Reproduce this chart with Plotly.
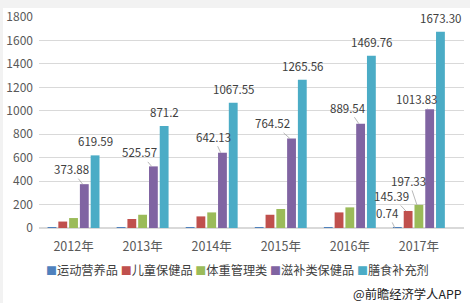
import plotly.graph_objects as go

years = ["2012年", "2013年", "2014年", "2015年", "2016年", "2017年"]
series_names = ["运动营养品", "儿童保健品", "体重管理类", "滋补类保健品", "膳食补充剂"]
sport = [5, 6, 7, 8, 8, 0.74]
children = [55, 77, 99, 113, 133, 145.39]
weight = [85, 113, 133, 162, 176, 197.33]
tonic = [373.88, 525.57, 642.13, 764.52, 889.54, 1013.83]
supplement = [619.59, 871.2, 1067.55, 1265.56, 1469.76, 1673.30]
supplement_labels = ["619.59", "871.2", "1067.55", "1265.56", "1469.76", "1673.30"]
y_ticks = [0, 200, 400, 600, 800, 1000, 1200, 1400, 1600, 1800]
source_text = "@前瞻经济学人APP"

colors = ["#4F81BD", "#C0504D", "#9BBB59", "#8064A2", "#4BACC6"]
all_series = [sport, children, weight, tonic, supplement]

FONT = "Noto Sans CJK SC, Noto Sans, sans-serif"
W, H = 470, 303
ML, MR, MT, MB = 39, 6, 17, 75
BARGAP, GROUPGAP = 0.22, 0.18

fig = go.Figure()
for name, vals, c in zip(series_names, all_series, colors):
    fig.add_trace(go.Bar(x=years, y=vals, name=name, marker_color=c,
                         marker_line_width=0, showlegend=False))

plot_w = W - ML - MR
cat_w = plot_w / len(years)
pitch = cat_w * (1 - BARGAP) / len(series_names)

def offset(i):
    return (i - (len(series_names) - 1) / 2) * pitch

ann = []
lab_font = dict(family=FONT, size=11.5, color="#404040")
# cyan labels above bars
for yr, v, t in zip(years, supplement, supplement_labels):
    ann.append(dict(x=yr, y=v, text=t, showarrow=False, xshift=offset(4), yshift=14,
                    yanchor="middle", font=lab_font))
# purple labels with leader lines
tonic_off = [(-11.5, -15), (-12, -14), (-7.5, -16), (-17, -15), (-11, -16), (-10.5, -10)]
for yr, v, (ax, ay) in zip(years, tonic, tonic_off):
    ann.append(dict(x=yr, y=v, text=f"{v:.2f}", showarrow=True, arrowhead=0,
                    arrowwidth=0.8, arrowcolor="#a6a6a6", ax=ax, ay=ay,
                    xshift=offset(3) - 2, font=lab_font))
# small labels in 2017
small = [(0, sport[-1], "0.74", (-7, -15)), (1, children[-1], "145.39", (-14, -15)),
         (2, weight[-1], "197.33", (-8, -24))]
for i, v, t, (ax, ay) in small:
    ann.append(dict(x=years[-1], y=v, text=t, showarrow=True, arrowhead=0,
                    arrowwidth=0.8, arrowcolor="#a6a6a6", ax=ax, ay=ay,
                    xshift=offset(i) - 2, font=lab_font))

# legend as text
def py(p):
    return (H - MB - p) / (H - MT - MB)
def px(p):
    return (p - ML) / plot_w

legend_txt = " ".join(
    f"<span style='color:{c};font-size:11px'>■</span>{n}" for n, c in zip(series_names, colors))
ann.append(dict(xref="paper", yref="paper", x=px(237), y=py(270), text=legend_txt,
                showarrow=False, xanchor="center", yanchor="middle",
                font=dict(family=FONT, size=12.2, color="#404040")))
ann.append(dict(xref="paper", yref="paper", x=px(464), y=py(294), text=source_text,
                showarrow=False, xanchor="right", yanchor="middle",
                font=dict(family=FONT, size=12.3, color="#222222")))

shapes = [
    dict(type="rect", xref="paper", yref="paper", x0=px(0), x1=px(W), y0=py(8), y1=py(0),
         fillcolor="#f2f2f2", line_width=0, layer="below"),
    dict(type="rect", xref="paper", yref="paper", x0=px(0), x1=px(3), y0=py(H), y1=py(0),
         fillcolor="#f2f2f2", line_width=0, layer="below"),
]

fig.update_layout(
    width=W, height=H, margin=dict(l=ML, r=MR, t=MT, b=MB, pad=0),
    paper_bgcolor="white", plot_bgcolor="white",
    barmode="group", bargap=BARGAP, bargroupgap=GROUPGAP,
    font=dict(family=FONT, size=12, color="#595959"),
    annotations=ann, shapes=shapes,
    xaxis=dict(showgrid=False, showline=False, ticks="", ticklabelstandoff=9,
               tickfont=dict(family=FONT, size=12.5, color="#595959")),
    yaxis=dict(range=[0, 1800], tickvals=y_ticks, showgrid=True, gridcolor="#d9d9d9",
               gridwidth=1, zeroline=True, zerolinecolor="#d9d9d9", showline=False,
               ticks="", ticklabelstandoff=5,
               tickfont=dict(family=FONT, size=12, color="#595959")),
)

fig.write_html("out.html")
